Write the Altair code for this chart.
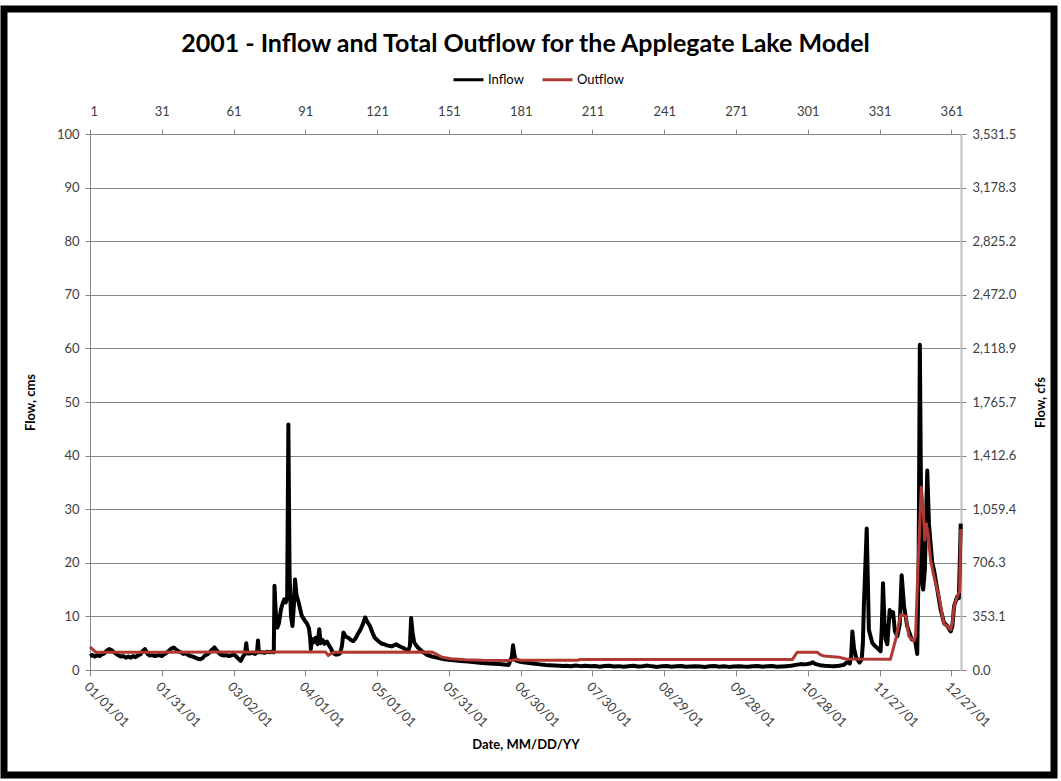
import altair as alt
import pandas as pd

# Daily inflow (cms), day-of-year 1 = 01/01/01
inflow_day = [
    1, 2, 3, 4, 5, 6, 7, 8, 9, 10, 11, 12, 13, 14, 15, 16, 17, 18, 19, 20,
    21, 22, 23, 24, 25, 26, 27, 28, 29, 30, 31, 32, 33, 34, 35, 36, 37, 38, 39, 40,
    41, 42, 43, 44, 45, 46, 47, 48, 49, 50, 51, 52, 53, 54, 55, 56, 57, 58, 59, 60,
    61, 62, 63, 64, 65, 65.8, 66.3, 66.8, 68, 69, 70, 70.8, 71.2, 71.6, 73, 74, 75, 76, 77, 77.8,
    78.1, 78.6, 79.3, 80, 80.8, 81.5, 82.2, 82.8, 83.4, 83.9, 84.4, 85.0, 85.6, 86.2, 86.7, 87.3,
    88.2, 89.5, 90.8, 91.8, 92.5, 93.0, 93.3, 93.8, 94.5, 95.3, 96.1, 96.8, 97.4, 98.2, 99.0, 100,
    101, 101.8, 102.5, 103.5, 104.5, 105.5, 106.3, 106.9, 108, 109, 110, 111, 112, 113, 114, 115,
    116, 117, 118, 119, 120, 121, 122, 123, 124, 125, 126, 127, 128, 129, 130, 131, 132, 133, 134,
    134.7, 135.2, 135.8, 136.5, 138, 140, 142, 144, 146, 148, 150, 153, 156, 159, 162, 165, 168,
    172, 176, 177.3, 177.8, 178.3, 178.9, 180.3, 182, 184.5, 187, 189, 191.4, 193, 195, 197, 199,
    200, 202, 204, 206, 208, 210, 212, 214, 216, 218, 220, 222, 224, 226, 228, 230, 232, 234, 236,
    238, 240, 242, 244, 246, 248, 250, 252, 254, 256, 258, 260, 262, 264, 266, 268, 270, 272, 274,
    276, 278, 280, 282, 284, 286, 288, 290, 292, 294, 296, 298, 300, 302, 303, 304, 306, 308, 310,
    312, 314, 316, 317.5, 318.5, 319.1, 319.6, 320.3, 321.2, 322.6, 323.5, 324.0, 324.4, 325.6,
    326.5, 327.9, 329, 330, 331.4, 331.9, 332.4, 333.0, 333.5, 334.2, 335.2, 336.0, 336.6, 337.4,
    338.4, 339.4, 340.2, 341.2, 342.5, 344.4, 345.5, 346.0, 346.7, 347.3, 347.8, 348.4, 348.8,
    349.2, 349.9, 350.4, 350.9, 351.6, 353.0, 353.7, 355.1, 356.5, 357.9, 359.3, 360.7, 361.4,
    362.1, 363.4, 364.1, 364.9,
]
inflow_cms = [
    2.6, 2.8, 2.5, 2.8, 2.6, 2.9, 3.1, 3.6, 3.9, 3.7, 3.3, 3.0, 2.7, 2.5, 2.6, 2.3, 2.5, 2.3, 2.6, 2.4,
    2.7, 2.9, 3.5, 3.9, 3.0, 2.7, 2.8, 2.6, 2.7, 2.8, 2.6, 2.9, 3.2, 3.6, 4.0, 4.2, 3.8, 3.5, 3.3, 3.0,
    3.1, 2.8, 2.6, 2.5, 2.3, 2.1, 2.0, 2.2, 2.7, 2.9, 3.3, 3.8, 4.2, 3.6, 3.1, 2.8, 2.7, 2.8, 2.6, 2.7,
    2.9, 2.6, 2.1, 1.7, 2.6, 3.0, 5.0, 3.1, 3.1, 3.2, 3.0, 3.3, 5.5, 3.3, 3.3, 3.2, 3.4, 3.3, 3.4, 3.3,
    15.7, 11.0, 7.9, 8.8, 11.3, 12.4, 13.2, 12.6, 13.5, 45.8, 18.0, 10.0, 8.2, 12.0, 16.9, 14.0,
    12.6, 10.1, 9.2, 8.6, 7.8, 6.0, 3.9, 5.8, 5.2, 6.0, 4.8, 7.6, 5.0, 5.6, 4.9, 5.3,
    4.5, 3.9, 3.2, 2.9, 2.9, 3.1, 4.5, 7.0, 6.2, 6.0, 5.6, 5.4, 5.9, 6.8, 7.5, 8.5,
    9.8, 8.9, 8.2, 7.0, 6.0, 5.6, 5.2, 4.9, 4.8, 4.6, 4.5, 4.4, 4.6, 4.8, 4.5, 4.3, 4.1, 3.8, 3.6,
    4.5, 9.7, 7.0, 5.1, 4.2, 3.4, 2.8, 2.5, 2.3, 2.1, 1.95, 1.8, 1.7, 1.6, 1.45, 1.3, 1.2,
    1.1, 0.95, 2.5, 4.6, 3.0, 1.8, 1.6, 1.45, 1.3, 1.15, 1.05, 0.95, 0.9, 0.85, 0.8, 0.76,
    0.78, 0.70, 0.85, 0.72, 0.80, 0.68, 0.76, 0.62, 0.74, 0.80, 0.66, 0.72, 0.60, 0.70, 0.78, 0.64, 0.72, 0.82, 0.68,
    0.58, 0.70, 0.76, 0.62, 0.68, 0.74, 0.60, 0.66, 0.72, 0.64, 0.56, 0.68, 0.74, 0.62, 0.70, 0.58, 0.66, 0.72, 0.64,
    0.60, 0.70, 0.76, 0.62, 0.68, 0.74, 0.60, 0.66, 0.72, 0.78, 0.95, 1.10, 1.05, 1.20, 1.45, 1.15, 0.90, 0.80, 0.74,
    0.70, 0.78, 0.95, 1.5, 1.2, 2.5, 7.2, 4.0, 2.3, 1.4, 2.0, 5.0, 11.9, 26.4,
    7.5, 5.1, 4.5, 4.1, 3.5, 8.0, 16.2, 9.0, 5.7, 4.8, 11.2, 10.0, 10.8, 7.2,
    6.3, 8.5, 17.7, 11.9, 8.2, 5.7, 5.5, 5.0, 3.0, 20.0, 60.7, 26.1, 16.2,
    15.0, 18.7, 28.0, 37.2, 27.3, 19.9, 18.7, 15.0, 11.3, 8.8, 8.2, 7.2, 8.2,
    11.9, 13.7, 13.4, 27.3,
]

# Total outflow (cms)
outflow_day = [
    1, 2, 3.5, 30, 60, 99.5, 100.6, 101.5, 103, 144, 146, 148, 152, 158, 165, 177,
    179.5, 181, 205, 205.5, 294.5, 296.5, 305, 306, 307.7, 314, 316.8, 335.5, 337.7,
    339.8, 341.9, 343.2, 345.3, 346.0, 347.1, 348.4, 349.1, 349.9, 350.5, 351.2, 352.3,
    353.7, 355.8, 357.9, 359.3, 360.7, 361.4, 362.1, 363.4, 364.4, 364.9,
]
outflow_cms = [
    4.3, 3.9, 3.3, 3.3, 3.35, 3.35, 2.7, 3.0, 3.3, 3.35, 2.9, 2.4, 2.1, 1.9, 1.8, 1.75,
    2.0, 1.8, 1.8, 1.95, 1.95, 3.3, 3.3, 2.9, 2.6, 2.4, 2.05, 2.0, 5.7,
    10.3, 10.1, 6.3, 5.4, 6.3, 19.9, 34.1, 31.0, 24.2, 27.3, 25.5, 20.5,
    17.4, 13.7, 8.5, 8.2, 7.5, 8.8, 11.9, 13.7, 14.6, 26.3,
]

date_ticks = [1, 31, 61, 91, 121, 151, 181, 211, 241, 271, 301, 331, 361]
date_labels = ["01/01/01", "01/31/01", "03/02/01", "04/01/01", "05/01/01", "05/31/01",
               "06/30/01", "07/30/01", "08/29/01", "09/28/01", "10/28/01", "11/27/01", "12/27/01"]
cms_ticks = [0, 10, 20, 30, 40, 50, 60, 70, 80, 90, 100]
CFS_PER_CMS = 35.3146667
cfs_ticks = [v * CFS_PER_CMS for v in cms_ticks]

series_names = ["Inflow", "Outflow"]
series_colors = ["#000000", "#B03A33"]

flows = pd.concat([
    pd.DataFrame({"day": inflow_day, "cms": inflow_cms, "series": "Inflow"}),
    pd.DataFrame({"day": outflow_day, "cms": outflow_cms, "series": "Outflow"}),
], ignore_index=True)

FONT = "Lato"
GRAY = "#868686"
label_lookup = "[" + ",".join(f"'{s}'" for s in date_labels) + "]"

day_scale = alt.Scale(domain=[1, 365], nice=False, zero=False)

x_bottom = alt.X(
    "day:Q", scale=day_scale,
    axis=alt.Axis(
        orient="bottom", values=date_ticks,
        labelExpr=f"{label_lookup}[round((datum.value - 1) / 30)]",
        labelAngle=45, labelAlign="left", labelBaseline="top",
        labelPadding=4, tickSize=6, grid=False,
        title="Date, MM/DD/YY", titlePadding=9,
    ),
)
y_left = alt.Y(
    "cms:Q", scale=alt.Scale(domain=[0, 100], nice=False),
    axis=alt.Axis(
        values=cms_ticks, grid=True, tickSize=5, labelPadding=6,
        title="Flow, cms", titlePadding=19,
    ),
)
series_color = alt.Color(
    "series:N",
    scale=alt.Scale(domain=series_names, range=series_colors),
    legend=alt.Legend(
        title=None, orient="none", direction="horizontal",
        legendX=362, legendY=-71,
        symbolType="stroke", symbolSize=900, symbolStrokeWidth=3,
        labelFont=FONT, labelFontSize=13, labelColor="#000000",
        labelOffset=3, columnPadding=12,
    ),
)

inflow_line = alt.Chart(flows).transform_filter(
    alt.datum.series == "Inflow"
).mark_line(strokeWidth=4, strokeJoin="round").encode(
    x=x_bottom, y=y_left, color=series_color
)
outflow_line = alt.Chart(flows).transform_filter(
    alt.datum.series == "Outflow"
).mark_line(strokeWidth=3, strokeJoin="round").encode(
    x=x_bottom, y=y_left, color=series_color
)
lines = alt.layer(inflow_line, outflow_line)

# Secondary axes: day number on top, flow in cfs on the right
secondary = alt.Chart(flows).transform_calculate(
    cfs=f"datum.cms * {CFS_PER_CMS}"
).mark_line(opacity=0).encode(
    x=alt.X(
        "day:Q", scale=day_scale,
        axis=alt.Axis(orient="top", values=date_ticks, format="d", grid=False,
                      tickSize=5, labelPadding=11, title=None),
    ),
    y=alt.Y(
        "cfs:Q", scale=alt.Scale(domain=[0, 100 * CFS_PER_CMS], nice=False),
        axis=alt.Axis(orient="right", values=cfs_ticks, format=",.1f", grid=False,
                      tickSize=5, labelPadding=6, domainColor="#BFBFBF", domainWidth=2,
                      title="Flow, cfs", titleAngle=270, titlePadding=32),
    ),
)

# Outer black frame around the figure
frame = alt.Chart(pd.DataFrame({"k": [0]})).mark_rect(
    fillOpacity=0, stroke="#000000", strokeWidth=7
).encode(
    x=alt.value(-86), x2=alt.value(964), y=alt.value(-125), y2=alt.value(641)
)

chart = alt.layer(secondary, lines, frame).resolve_scale(
    x="independent", y="independent"
).properties(
    width=871, height=536,
    autosize=alt.AutoSizeParams(type="none"),
    padding={"left": 90, "top": 134, "right": 100, "bottom": 111},
    title=alt.TitleParams(
        "2001 - Inflow and Total Outflow for the Applegate Lake Model",
        font=FONT, fontSize=25, fontWeight="bold", color="#000000",
        anchor="middle", offset=-51,
    ),
).configure_view(
    stroke=None
).configure_axis(
    labelFont=FONT, titleFont=FONT, labelFontSize=13, titleFontSize=13,
    labelColor="#404040", titleColor="#000000", titleFontWeight="bold",
    domainColor=GRAY, tickColor=GRAY, gridColor=GRAY,
)

chart.save("out.html", embed_options={"renderer": "svg", "actions": False})
